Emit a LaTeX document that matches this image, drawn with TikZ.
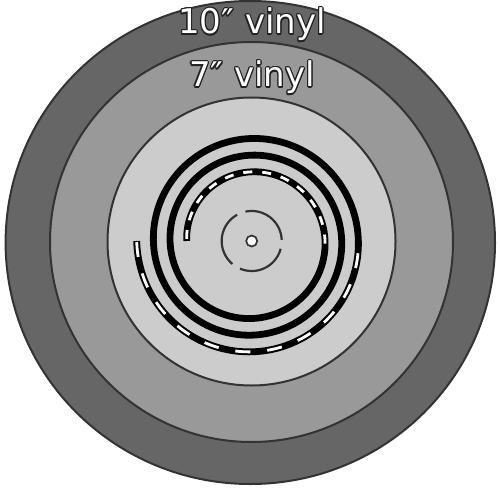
\documentclass[tikz,border=0pt]{standalone}
\usepackage{fontspec}
\setmainfont{DejaVu Sans}
\usepackage{contour}
\contourlength{1.1pt}
\contournumber{16}
\definecolor{ringline}{HTML}{333333}
\definecolor{outerfill}{HTML}{666666}
\definecolor{midfill}{HTML}{999999}
\definecolor{innerfill}{HTML}{CCCCCC}
\definecolor{outl}{HTML}{222222}
\tikzset{
  ringdisc/.style={draw=ringline, line width=2pt},
  track/.style={line width=6.8pt, black},
  trackdash/.style={white, line width=2.8pt},
  label/.style={anchor=base, text=white, font=\fontsize{34}{36}\selectfont, inner sep=0pt},
  hubring/.style={draw=ringline, line width=2.2pt},
}
\newcommand{\rs}[1]{(115 - (#1-180)/21.6)}
\begin{document}
\begin{tikzpicture}[x=1pt,y=1pt]
\useasboundingbox (0,0) rectangle (500,491);
\fill[white] (0,0) rectangle (500,491);
\def\cx{251.7}
\def\cy{250}
% discs
\filldraw[ringdisc, fill=outerfill] (250.3,248.5) ellipse [x radius=244.7, y radius=241.5];
\filldraw[ringdisc, fill=midfill] (251.5,249) ellipse [x radius=201.5, y radius=200];
\filldraw[ringdisc, fill=innerfill] (251.5,249.5) circle [radius=144];
% spiral groove
\draw[track] plot[domain=180:1260, samples=500, variable=\t]
  ({\cx + \rs{\t}*cos(\t)}, {\cy + \rs{\t}*sin(\t)});
\draw[trackdash, dash pattern=on 15pt off 17pt, dash phase=-1pt] plot[domain=180:360, samples=150, variable=\t]
  ({\cx + \rs{\t}*cos(\t)}, {\cy + \rs{\t}*sin(\t)});
\draw[trackdash, dash pattern=on 9pt off 10pt] plot[domain=1078:1259, samples=150, variable=\t]
  ({\cx + \rs{\t}*cos(\t)}, {\cy + \rs{\t}*sin(\t)});
% hub ring with gaps
\draw[hubring] plot[domain=2:102, samples=40, variable=\t] ({\cx + 30*cos(\t)}, {\cy + 30*sin(\t)});
\draw[hubring] plot[domain=119:230, samples=40, variable=\t] ({\cx + 30*cos(\t)}, {\cy + 30*sin(\t)});
\draw[hubring] plot[domain=247:345, samples=40, variable=\t] ({\cx + 30*cos(\t)}, {\cy + 30*sin(\t)});
% spindle hole
\node (hole) [circle, draw=ringline, fill=white, line width=1.7pt, minimum size=11pt, inner sep=0pt] at (\cx,\cy) {};
% labels
\node (ten) [label] at (252,457) {\contour{outl}{10\symbol{"2033} vinyl}};
\node (seven) [label] at (252,404) {\contour{outl}{7\symbol{"2033} vinyl}};
\end{tikzpicture}
\end{document}
